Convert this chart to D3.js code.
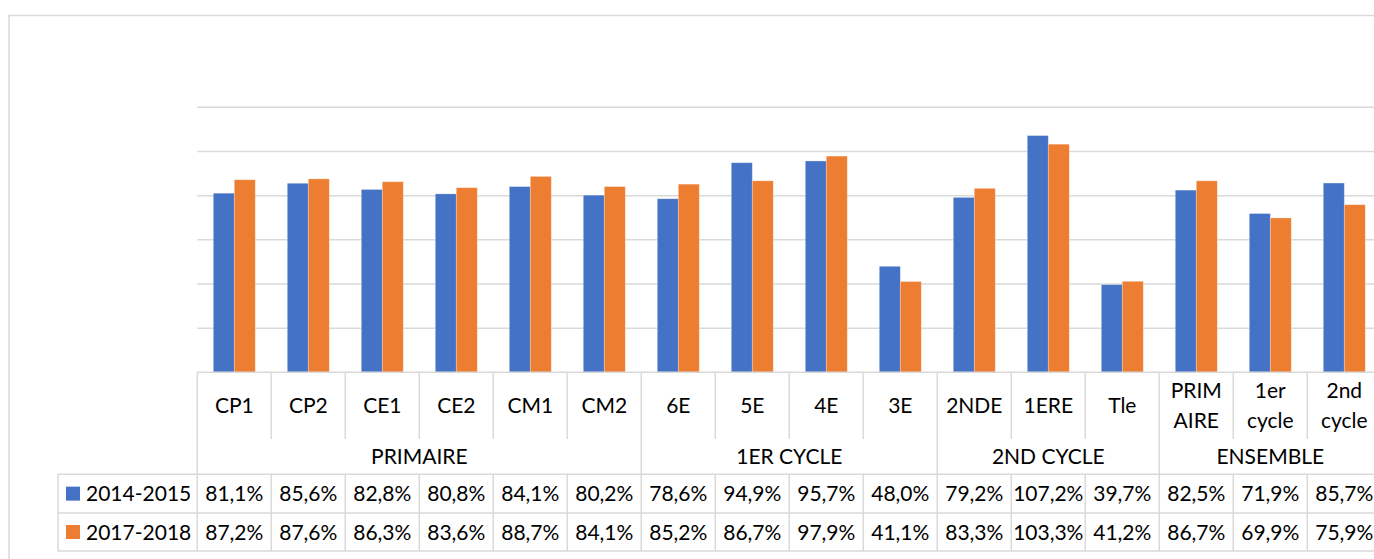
<!DOCTYPE html>
<html>
<head>
<meta charset="utf-8">
<script src="https://cdn.jsdelivr.net/npm/d3@7"></script>
<style>
  body { margin: 0; background: #fff; }
  text { font-family: Lato, "Open Sans", sans-serif; fill: #000; }
</style>
</head>
<body>
<div id="chart"></div>
<script>
// categories (two-line labels split with |)
var categories = ["CP1", "CP2", "CE1", "CE2", "CM1", "CM2", "6E", "5E", "4E", "3E",
                  "2NDE", "1ERE", "Tle", "PRIM|AIRE", "1er|cycle", "2nd|cycle"];
var groups = ["PRIMAIRE", "1ER CYCLE", "2ND CYCLE", "ENSEMBLE"];
var groupSizes = [6, 4, 3, 3];
var series = ["2014-2015", "2017-2018"];
var values2014 = [81.1, 85.6, 82.8, 80.8, 84.1, 80.2, 78.6, 94.9, 95.7, 48.0, 79.2, 107.2, 39.7, 82.5, 71.9, 85.7];
var values2017 = [87.2, 87.6, 86.3, 83.6, 88.7, 84.1, 85.2, 86.7, 97.9, 41.1, 83.3, 103.3, 41.2, 86.7, 69.9, 75.9];
var yTicks = [0, 20, 40, 60, 80, 100, 120];

var colors = ["#4472C4", "#ED7D31"];
var gridColor = "#d9d9d9";

var width = 1374, height = 559;
var plotLeft = 197.3, plotRight = plotLeft + 74 * categories.length;
var plotTop = 107.3, baseY = 372.3;
var labelRowBottom = 439, groupRowBottom = 474.3, row1Bottom = 513, row2Bottom = 551;
var headerLeft = 58;

var fr = d3.formatLocale({decimal: ",", thousands: " ", grouping: [3], currency: ["", "€"]});
var fmt = fr.format(".1f");

var svg = d3.select("#chart").append("svg")
    .attr("width", width)
    .attr("height", height)
    .style("display", "block");

// chart frame (clipped on right and bottom like the reference)
svg.append("rect")
    .attr("x", 9).attr("y", 15.5)
    .attr("width", 1500).attr("height", 700)
    .attr("fill", "none")
    .attr("stroke", gridColor)
    .attr("stroke-width", 1.5);

var x0 = d3.scaleBand()
    .domain(categories)
    .range([plotLeft, plotRight])
    .padding(0);

var x1 = d3.scaleBand()
    .domain(series)
    .range([0, x0.bandwidth()])
    .paddingInner(0)
    .paddingOuter(0.762);

var y = d3.scaleLinear()
    .domain([0, 120])
    .range([baseY, plotTop]);

// gridlines
svg.append("g").attr("class", "grid")
    .selectAll("line")
    .data(yTicks.slice(1))
    .enter().append("line")
    .attr("x1", plotLeft).attr("x2", plotRight)
    .attr("y1", function (d) { return y(d); })
    .attr("y2", function (d) { return y(d); })
    .attr("stroke", gridColor)
    .attr("stroke-width", 1.5);

// bars
var seriesData = [values2014, values2017];
var barG = svg.append("g").attr("class", "bars");
seriesData.forEach(function (vals, s) {
    barG.selectAll(".bar" + s)
        .data(vals)
        .enter().append("rect")
        .attr("class", "bar" + s)
        .attr("x", function (d, i) { return x0(categories[i]) + x1(series[s]); })
        .attr("y", function (d) { return y(d); })
        .attr("width", x1.bandwidth())
        .attr("height", function (d) { return y(0) - y(d); })
        .attr("fill", colors[s])
        .attr("stroke", "#fff")
        .attr("stroke-opacity", 0.35)
        .attr("stroke-width", 0.8);
});

// data table lines
var tbl = svg.append("g").attr("class", "table")
    .attr("stroke", gridColor)
    .attr("stroke-width", 1.5);

// baseline / axis
tbl.append("line")
    .attr("x1", plotLeft).attr("x2", plotRight)
    .attr("y1", baseY).attr("y2", baseY);

// category cell separators
var bounds = categories.map(function (c) { return x0(c); }).concat([plotRight]);
tbl.selectAll(".catSep")
    .data(bounds)
    .enter().append("line")
    .attr("x1", function (d) { return d; })
    .attr("x2", function (d) { return d; })
    .attr("y1", baseY)
    .attr("y2", labelRowBottom);

// group separators
var groupBounds = [plotLeft];
var acc = 0;
groupSizes.forEach(function (n) {
    acc += n;
    groupBounds.push(acc < categories.length ? x0(categories[acc]) : plotRight);
});
tbl.selectAll(".grpSep")
    .data(groupBounds)
    .enter().append("line")
    .attr("x1", function (d) { return d; })
    .attr("x2", function (d) { return d; })
    .attr("y1", labelRowBottom)
    .attr("y2", groupRowBottom);

// value rows
[groupRowBottom, row1Bottom, row2Bottom].forEach(function (yy) {
    tbl.append("line")
        .attr("x1", headerLeft).attr("x2", plotRight)
        .attr("y1", yy).attr("y2", yy);
});
tbl.append("line")
    .attr("x1", headerLeft).attr("x2", headerLeft)
    .attr("y1", groupRowBottom).attr("y2", row2Bottom);
tbl.selectAll(".valSep")
    .data(bounds)
    .enter().append("line")
    .attr("x1", function (d) { return d; })
    .attr("x2", function (d) { return d; })
    .attr("y1", groupRowBottom)
    .attr("y2", row2Bottom);

// category labels
var fs = 21;
var catLabels = svg.append("g").attr("class", "catLabels")
    .attr("font-size", fs + "px")
    .attr("text-anchor", "middle");
categories.forEach(function (c) {
    var lines = c.split("|");
    var cx = x0(c) + x0.bandwidth() / 2;
    var cy = (baseY + labelRowBottom) / 2;
    lines.forEach(function (ln, k) {
        catLabels.append("text")
            .attr("x", cx)
            .attr("y", cy + (k - (lines.length - 1) / 2) * 29.5)
            .attr("dy", "0.36em")
            .text(ln);
    });
});

// group labels
var gl = svg.append("g").attr("font-size", fs + "px").attr("text-anchor", "middle");
groups.forEach(function (g, i) {
    gl.append("text")
        .attr("x", (groupBounds[i] + groupBounds[i + 1]) / 2)
        .attr("y", (labelRowBottom + groupRowBottom) / 2)
        .attr("dy", "0.36em")
        .text(g);
});

// value rows with legend keys
var rowTops = [groupRowBottom, row1Bottom, row2Bottom];
seriesData.forEach(function (vals, s) {
    var cy = (rowTops[s] + rowTops[s + 1]) / 2;
    svg.append("rect")
        .attr("x", 66).attr("y", cy - 7)
        .attr("width", 14).attr("height", 14)
        .attr("fill", colors[s]);
    svg.append("text")
        .attr("x", 86).attr("y", cy)
        .attr("dy", "0.36em")
        .attr("font-size", fs + "px")
        .text(series[s]);
    svg.append("g").attr("font-size", fs + "px").attr("text-anchor", "middle")
        .selectAll("text")
        .data(vals)
        .enter().append("text")
        .attr("x", function (d, i) { return x0(categories[i]) + x0.bandwidth() / 2; })
        .attr("y", cy)
        .attr("dy", "0.36em")
        .text(function (d) { return fmt(d) + "%"; });
});
</script>
</body>
</html>
